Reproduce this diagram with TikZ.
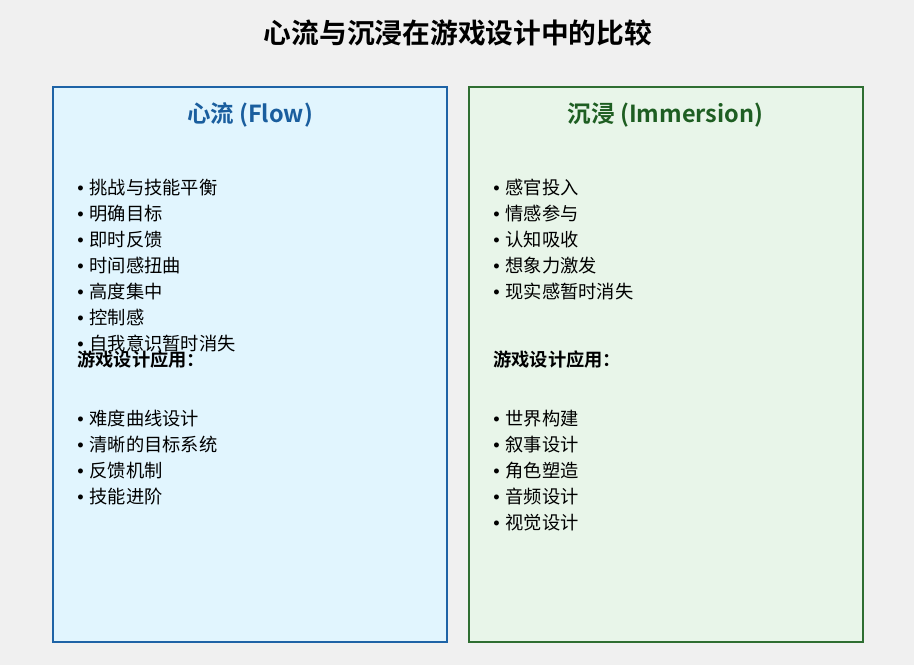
\documentclass[tikz,border=0pt]{standalone}
\usepackage{fontspec}
\setmainfont{Noto Sans CJK SC}[BoldFont={Noto Sans CJK SC Bold}]
\newfontfamily\bulletfont{Liberation Sans}
\usepackage{xcolor}
\definecolor{page-bg}{HTML}{F0F0F0}
\definecolor{flow-line}{HTML}{1E63A6}
\definecolor{flow-bg}{HTML}{E1F5FE}
\definecolor{flow-text}{HTML}{1A5E9E}
\definecolor{imm-line}{HTML}{2F6E32}
\definecolor{imm-bg}{HTML}{E8F5E9}
\definecolor{imm-text}{HTML}{1E5E22}
\newcommand{\bul}{{\bulletfont •}\hspace{0.32em}}

\begin{document}
\begin{tikzpicture}[x=0.75pt, y=-0.75pt, every node/.style={inner sep=0pt},
    panel/.style={draw, line width=1.5pt, minimum width=295.5pt, minimum height=416pt},
    item/.style={anchor=west, font=\fontsize{13.7}{16}\selectfont},
    head/.style={font=\bfseries\fontsize{17.6}{20}\selectfont}]
    % Page: 914 x 665 px, coordinates in px, y pointing down
    %   two panels 394 px wide, from y=87 to y=642
    %   list lines 25.9 px apart
    \fill[page-bg] (0,0) rectangle (914,665);
    \useasboundingbox (0,0) rectangle (914,665);
    \node[font=\bfseries\fontsize{20.8}{24}\selectfont] (title) at (458,33)
          {心流与沉浸在游戏设计中的比较};

    \node[panel, draw=flow-line, fill=flow-bg] (flowbox) at (250,364.5) {};
    \node[panel, draw=imm-line, fill=imm-bg] (immbox) at (665.5,364.5) {};

    \node[head, text=flow-text] (flowhead) at (250,115) {心流 (Flow)};
    \node[head, text=imm-text] (immhead) at (665.5,115) {沉浸 (Immersion)};

    % left panel
    \foreach \t [count=\i] in {挑战与技能平衡, 明确目标, 即时反馈, 时间感扭曲,
        高度集中, 控制感, 自我意识暂时消失}
      \node[item] (flowa\i) at (77,188+25.9*\i-25.9) {\bul\t};
    \node[item, font=\bfseries\fontsize{13.7}{16}\selectfont] (flowapp)
          at (77,360) {游戏设计应用：};
    \foreach \t [count=\i] in {难度曲线设计, 清晰的目标系统, 反馈机制, 技能进阶}
      \node[item] (flowb\i) at (77,419+25.9*\i-25.9) {\bul\t};

    % right panel
    \foreach \t [count=\i] in {感官投入, 情感参与, 认知吸收, 想象力激发, 现实感暂时消失}
      \node[item] (imma\i) at (493,188+25.9*\i-25.9) {\bul\t};
    \node[item, font=\bfseries\fontsize{13.7}{16}\selectfont] (immapp)
          at (493,360) {游戏设计应用：};
    \foreach \t [count=\i] in {世界构建, 叙事设计, 角色塑造, 音频设计, 视觉设计}
      \node[item] (immb\i) at (493,419+25.9*\i-25.9) {\bul\t};
\end{tikzpicture}
\end{document}
